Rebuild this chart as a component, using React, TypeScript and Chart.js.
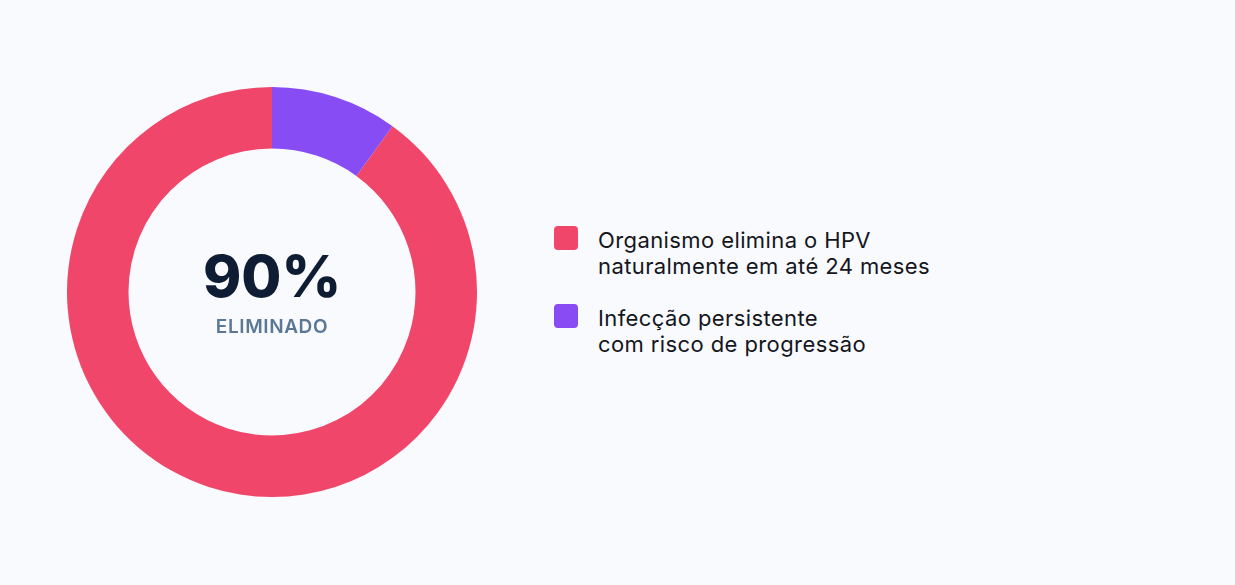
import React, { useEffect, useRef } from "react";
import { Chart, registerables } from "chart.js";

Chart.register(...registerables);

const categories: string[] = [
  "Organismo elimina o HPV\nnaturalmente em até 24 meses",
  "Infecção persistente\ncom risco de progressão",
];
const values: number[] = [90, 10];
const colors: string[] = ["#F0466A", "#874CF3"];
const centerValue = "90%";
const centerLabel = "ELIMINADO";

const FONT = "Inter, 'Noto Sans', sans-serif";

export default function App() {
  const ref = useRef<HTMLCanvasElement | null>(null);

  useEffect(() => {
    document.body.style.margin = "0";
    document.body.style.background = "#F9FAFE";
    const ctx = ref.current!;
    const chart = new Chart(ctx, {
      type: "doughnut",
      data: {
        labels: categories.map((c) => c.replace("\n", " ")),
        datasets: [
          {
            data: values,
            backgroundColor: colors,
            borderWidth: 0,
          },
        ],
      },
      options: {
        responsive: false,
        animation: false,
        cutout: "70%",
        rotation: (values[1] / (values[0] + values[1])) * 360,
        layout: { padding: 0 },
        plugins: {
          legend: { display: false },
          tooltip: { enabled: false },
        },
      },
    });
    return () => chart.destroy();
  }, []);

  return (
    <div
      style={{
        position: "relative",
        width: 1235,
        height: 585,
        background: "#F9FAFE",
        fontFamily: FONT,
        overflow: "hidden",
      }}
    >
      <canvas
        ref={ref}
        width={410}
        height={410}
        style={{ position: "absolute", left: 67, top: 87, width: 410, height: 410 }}
      />
      <div
        style={{
          position: "absolute",
          left: 172,
          width: 200,
          top: 245,
          textAlign: "center",
          color: "#0E1D33",
          fontWeight: 800,
          fontSize: 58,
          lineHeight: "62px",
          letterSpacing: "0px",
        }}
      >
        {centerValue}
      </div>
      <div
        style={{
          position: "absolute",
          left: 172,
          width: 200,
          top: 315,
          textAlign: "center",
          color: "#5A7896",
          fontWeight: 600,
          fontSize: 19,
          lineHeight: "24px",
          letterSpacing: "0.6px",
        }}
      >
        {centerLabel}
      </div>
      {categories.map((c, i) => (
        <div key={i} style={{ position: "absolute", left: 554, top: 226 + i * 78 }}>
          <div
            style={{
              position: "absolute",
              left: 0,
              top: 0,
              width: 24,
              height: 24,
              borderRadius: 4,
              background: colors[i],
            }}
          />
          <div
            style={{
              position: "absolute",
              left: 44,
              top: 1,
              whiteSpace: "pre",
              fontSize: 22,
              lineHeight: "26px",
              letterSpacing: "0.4px",
              color: "#14161C",
            }}
          >
            {c}
          </div>
        </div>
      ))}
    </div>
  );
}
